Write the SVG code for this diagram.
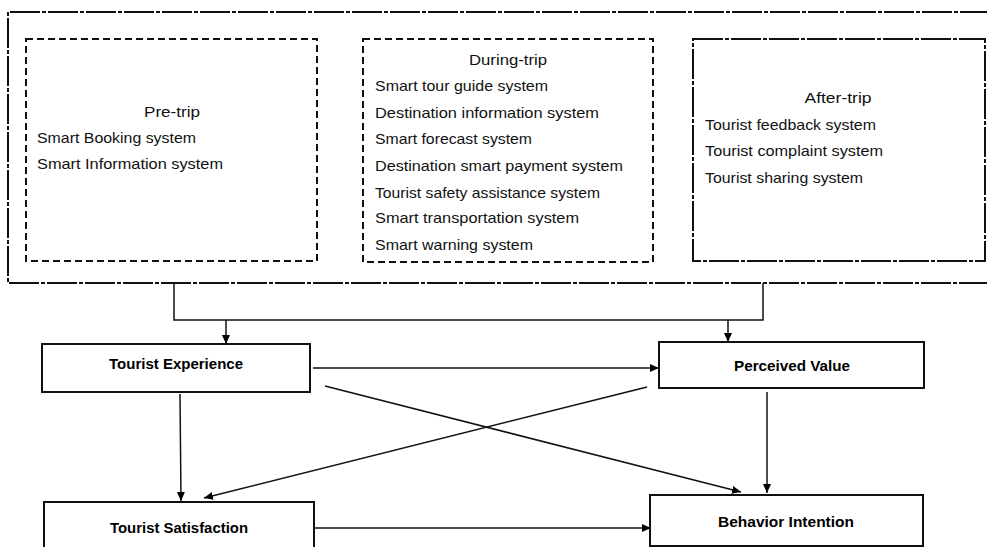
<svg xmlns="http://www.w3.org/2000/svg" width="987" height="547" viewBox="0 0 987 547">
<style>
.t{font-family:"Liberation Sans",Arial,sans-serif;font-size:15px;fill:#111}
.b{font-family:"Liberation Sans",Arial,sans-serif;font-size:15px;font-weight:bold;fill:#000}
.dash{fill:none;stroke:#111;stroke-width:2;stroke-dasharray:7 4}
.dd{fill:none;stroke:#111;stroke-width:2;stroke-dasharray:30 2 4 2}
.box{fill:#fff;stroke:#111;stroke-width:2}
.c{fill:none;stroke:#111;stroke-width:1.5}
</style>
<defs>
<marker id="ah" markerWidth="10" markerHeight="10" refX="9" refY="5" orient="auto" markerUnits="userSpaceOnUse">
<path d="M0,1 L9,5 L0,9 Z" fill="#000"/>
</marker>
</defs>
<rect width="987" height="547" fill="#fff"/>
<g id="outer">
<path class="dd" d="M990,12 H8 V283 H990"/>
</g>
<g id="pretrip">
<rect class="dash" x="26" y="39" width="291" height="222"/>
<text class="t" x="172" y="117" text-anchor="middle" textLength="56" lengthAdjust="spacingAndGlyphs">Pre-trip</text>
<text class="t" x="37" y="143" textLength="159" lengthAdjust="spacingAndGlyphs">Smart Booking system</text>
<text class="t" x="37" y="169" textLength="186" lengthAdjust="spacingAndGlyphs">Smart Information system</text>
</g>
<g id="duringtrip">
<rect class="dash" x="363" y="39" width="290" height="223"/>
<text class="t" x="508" y="65" text-anchor="middle" textLength="78" lengthAdjust="spacingAndGlyphs">During-trip</text>
<text class="t" x="375" y="91" textLength="173" lengthAdjust="spacingAndGlyphs">Smart tour guide system</text>
<text class="t" x="375" y="118" textLength="224" lengthAdjust="spacingAndGlyphs">Destination information system</text>
<text class="t" x="375" y="144" textLength="157" lengthAdjust="spacingAndGlyphs">Smart forecast system</text>
<text class="t" x="375" y="171" textLength="248" lengthAdjust="spacingAndGlyphs">Destination smart payment system</text>
<text class="t" x="375" y="198" textLength="225" lengthAdjust="spacingAndGlyphs">Tourist safety assistance system</text>
<text class="t" x="375" y="223" textLength="204" lengthAdjust="spacingAndGlyphs">Smart transportation system</text>
<text class="t" x="375" y="250" textLength="158" lengthAdjust="spacingAndGlyphs">Smart warning system</text>
</g>
<g id="aftertrip">
<rect class="dd" x="693" y="39" width="292" height="222"/>
<text class="t" x="838" y="103" text-anchor="middle" textLength="67" lengthAdjust="spacingAndGlyphs">After-trip</text>
<text class="t" x="705" y="130" textLength="171" lengthAdjust="spacingAndGlyphs">Tourist feedback system</text>
<text class="t" x="705" y="156" textLength="178" lengthAdjust="spacingAndGlyphs">Tourist complaint system</text>
<text class="t" x="705" y="183" textLength="158" lengthAdjust="spacingAndGlyphs">Tourist sharing system</text>
</g>
<g id="connectors">
<path class="c" d="M174,283 V320 H763 V283"/>
<line class="c" x1="226" y1="320" x2="226" y2="344" marker-end="url(#ah)"/>
<line class="c" x1="728" y1="320" x2="728" y2="342" marker-end="url(#ah)"/>
<line class="c" x1="313" y1="368" x2="659" y2="368" marker-end="url(#ah)"/>
<line class="c" x1="325" y1="386" x2="741" y2="492" marker-end="url(#ah)"/>
<line class="c" x1="647" y1="387" x2="204" y2="498" marker-end="url(#ah)"/>
<line class="c" x1="180" y1="394" x2="181" y2="501" marker-end="url(#ah)"/>
<line class="c" x1="767" y1="392" x2="767" y2="493" marker-end="url(#ah)"/>
<line class="c" x1="315" y1="528" x2="651" y2="528" marker-end="url(#ah)"/>
</g>
<g id="te">
<rect class="box" x="42" y="344" width="268" height="48"/>
<text class="b" x="176" y="369" text-anchor="middle" textLength="134" lengthAdjust="spacingAndGlyphs">Tourist Experience</text>
</g>
<g id="pv">
<rect class="box" x="659" y="342" width="265" height="46"/>
<text class="b" x="792" y="371" text-anchor="middle" textLength="116" lengthAdjust="spacingAndGlyphs">Perceived Value</text>
</g>
<g id="ts">
<rect class="box" x="44" y="502" width="270" height="60"/>
<text class="b" x="179" y="533" text-anchor="middle" textLength="138" lengthAdjust="spacingAndGlyphs">Tourist Satisfaction</text>
</g>
<g id="bi">
<rect class="box" x="650" y="495" width="273" height="51"/>
<text class="b" x="786" y="527" text-anchor="middle" textLength="136" lengthAdjust="spacingAndGlyphs">Behavior Intention</text>
</g>
</svg>
